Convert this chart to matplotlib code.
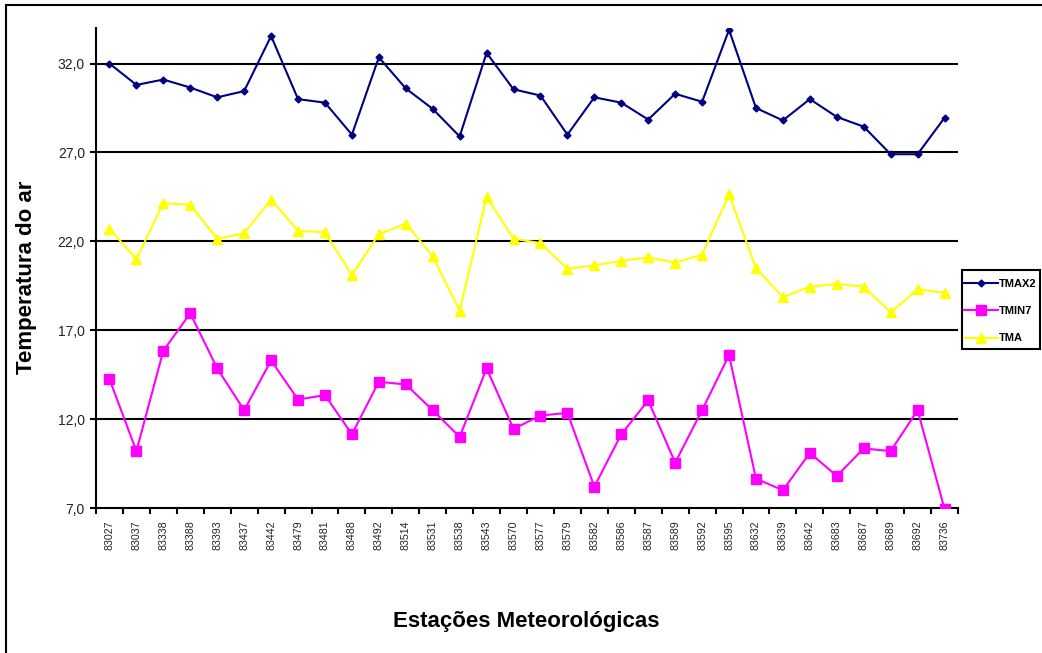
import numpy as np
import matplotlib
matplotlib.use('Agg')
import matplotlib.pyplot as plt
from matplotlib.patches import Rectangle
from matplotlib.ticker import FuncFormatter

plt.rcParams['font.family'] = ['Liberation Sans', 'DejaVu Sans']

stations = ['83027', '83037', '83338', '83388', '83393', '83437', '83442', '83479',
            '83481', '83488', '83492', '83514', '83531', '83538', '83543', '83570',
            '83577', '83579', '83582', '83586', '83587', '83589', '83592', '83595',
            '83632', '83639', '83642', '83683', '83687', '83689', '83692', '83736']

tmax2 = [32.0, 30.8, 31.1, 30.65, 30.1, 30.45, 33.55, 30.0,
         29.8, 28.0, 32.35, 30.6, 29.45, 27.9, 32.6, 30.55,
         30.2, 28.0, 30.1, 29.8, 28.85, 30.3, 29.85, 33.9,
         29.5, 28.8, 30.0, 29.0, 28.45, 26.9, 26.9, 28.95]

tmin7 = [14.25, 10.2, 15.85, 17.95, 14.85, 12.5, 15.3, 13.1,
         13.35, 11.15, 14.1, 13.95, 12.5, 11.0, 14.85, 11.45,
         12.2, 12.35, 8.2, 11.15, 13.05, 9.55, 12.5, 15.6,
         8.65, 8.0, 10.1, 8.8, 10.35, 10.2, 12.5, 6.95]

tma = [22.7, 21.0, 24.15, 24.05, 22.15, 22.45, 24.35, 22.6,
       22.5, 20.1, 22.4, 23.0, 21.15, 18.1, 24.5, 22.15,
       21.9, 20.45, 20.65, 20.9, 21.1, 20.8, 21.25, 24.65,
       20.5, 18.85, 19.45, 19.6, 19.45, 18.0, 19.3, 19.1]

W, H = 1042, 653
fig = plt.figure(figsize=(W / 100, H / 100), dpi=100)
ax = fig.add_axes([96 / W, 1 - 508 / H, (958 - 96) / W, (508 - 28) / H])

x = np.arange(len(stations))
l1, = ax.plot(x, tmax2, color='#000080', lw=1.5, marker='D', ms=3.5,
              label='TMAX2', zorder=5)
l2, = ax.plot(x, tmin7, color='#FF00FF', lw=1.5, marker='s', ms=6.5,
              label='TMIN7', zorder=4)
l3, = ax.plot(x, tma, color='#FFFF00', lw=1.5, marker='^', ms=7,
              label='TMA', zorder=3)

ax.set_xlim(-0.5, len(stations) - 0.5)
ax.set_ylim(7, 34)
ax.set_yticks([7, 12, 17, 22, 27, 32])
ax.yaxis.set_major_formatter(FuncFormatter(lambda v, p: f'{v:.1f}'.replace('.', ',')))
for v in [12, 17, 22, 27, 32]:
    ax.axhline(v, color='black', lw=1.5, zorder=1)

# tick marks on the category boundaries, labels at the centres
ax.set_xticks(np.arange(-0.5, len(stations), 1.0))
ax.set_xticklabels([])
ax.set_xticks(x, minor=True)
ax.set_xticklabels(stations, minor=True, rotation=90, fontsize=7.7, color='#222222')
ax.tick_params(axis='x', which='major', direction='out', length=4, width=1.5)
ax.tick_params(axis='x', which='minor', length=0, pad=9)
ax.tick_params(axis='y', direction='out', length=4, width=1.5, labelsize=10,
               labelcolor='#222222', pad=4)

for s in ['top', 'right']:
    ax.spines[s].set_visible(False)
for s in ['left', 'bottom']:
    ax.spines[s].set_linewidth(1.5)

fig.text(27 / W, 1 - 277 / H, 'Temperatura do ar', rotation=90, fontsize=16,
         fontweight='bold', ha='center', va='center')
fig.text(526 / W, 1 - 622 / H, 'Estações Meteorológicas', fontsize=16,
         fontweight='bold', ha='center', va='center')

# legend without its own frame; the box is drawn separately to fit the tight layout
leg = fig.legend(handles=[l1, l2, l3], loc='upper left',
                 bbox_to_anchor=(964 / W, 1 - 279 / H),
                 prop={'weight': 'bold', 'size': 8}, frameon=False,
                 handlelength=3.1, handletextpad=0.05, labelspacing=1.55,
                 borderpad=0, borderaxespad=0)
fig.patches.append(Rectangle((962 / W, 1 - 349 / H), 78 / W, 79 / H,
                             transform=fig.transFigure, fill=False,
                             edgecolor='black', lw=1.5))

# outer chart border (runs off the right and bottom edges)
fig.patches.append(Rectangle((6 / W, -0.1), 1.2, 1.1 - 5 / H, transform=fig.transFigure,
                             fill=False, edgecolor='black', lw=1.5))

fig.savefig('out.png', dpi=100)
